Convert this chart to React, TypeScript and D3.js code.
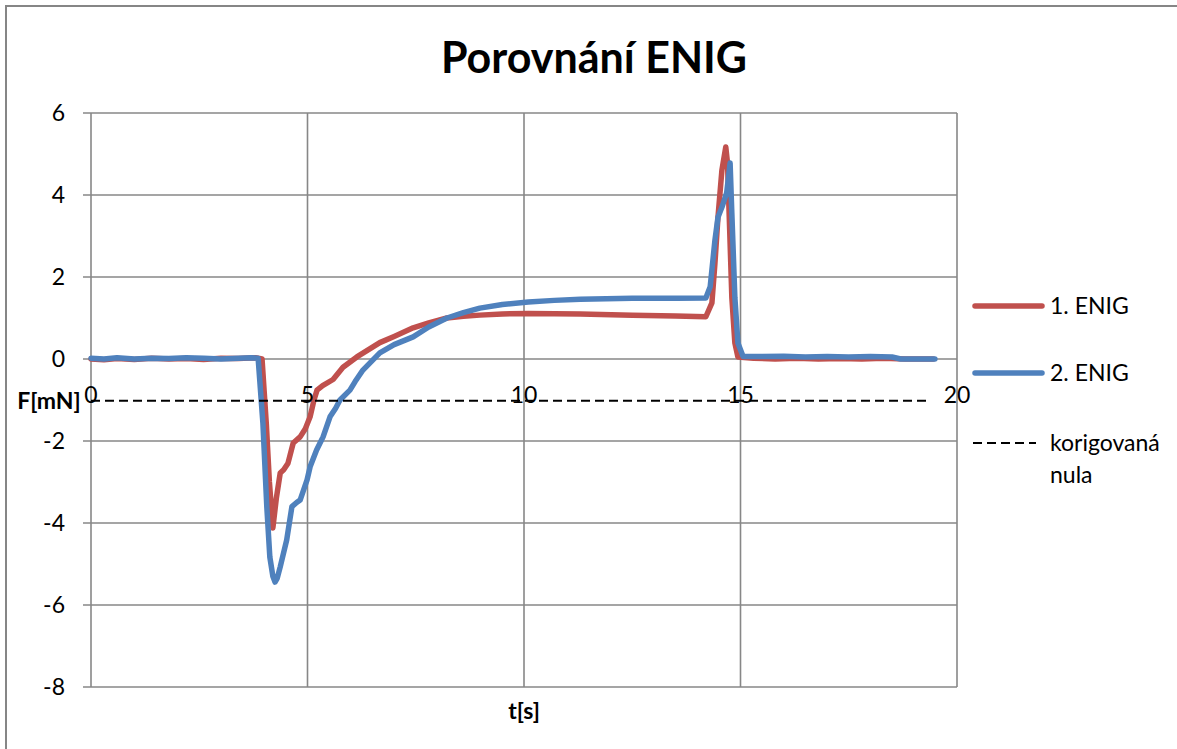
import React from "react";
import * as d3 from "d3";

const tRed = [0, 0.3, 0.6, 1.0, 1.4, 1.8, 2.2, 2.6, 3.0, 3.4, 3.8, 3.95, 4.05, 4.12, 4.2, 4.28, 4.37, 4.45, 4.55, 4.67, 4.83, 4.95, 5.06, 5.15, 5.22, 5.35, 5.59, 5.82, 6.14, 6.67, 7.0, 7.44, 7.8, 8.22, 8.6, 8.98, 9.5, 10.1, 11.3, 12.5, 13.5, 14.2, 14.34, 14.41, 14.48, 14.57, 14.66, 14.7, 14.75, 14.8, 14.87, 14.94, 15.3, 15.8, 16.3, 16.8, 17.3, 17.8, 18.3, 18.8, 19.45];
const fRed = [0, -0.02, 0.01, -0.01, 0.02, 0, 0.01, -0.01, 0.02, 0.01, 0.03, 0.0, -1.6, -3.0, -4.12, -3.4, -2.78, -2.7, -2.54, -2.05, -1.9, -1.7, -1.41, -1.0, -0.76, -0.65, -0.5, -0.2, 0.05, 0.4, 0.55, 0.76, 0.88, 1.0, 1.04, 1.07, 1.1, 1.11, 1.1, 1.07, 1.05, 1.03, 1.37, 2.34, 3.46, 4.6, 5.17, 4.78, 3.15, 1.5, 0.39, 0.05, 0.02, 0.0, 0.02, 0.0, 0.01, 0.0, 0.02, 0.0, 0.0];

const tBlue = [0, 0.3, 0.6, 1.0, 1.4, 1.8, 2.2, 2.6, 3.0, 3.4, 3.7, 3.86, 3.97, 4.06, 4.13, 4.2, 4.25, 4.3, 4.37, 4.52, 4.64, 4.75, 4.83, 4.99, 5.06, 5.21, 5.36, 5.52, 5.65, 5.75, 5.98, 6.1, 6.28, 6.67, 7.0, 7.44, 7.8, 8.22, 8.6, 8.98, 9.5, 10.1, 10.7, 11.3, 12.5, 13.5, 14.2, 14.3, 14.41, 14.48, 14.57, 14.68, 14.76, 14.8, 14.87, 14.94, 15.06, 15.5, 16, 16.5, 17, 17.5, 18, 18.5, 18.7, 19.0, 19.49];
const fBlue = [0.02, 0.0, 0.03, 0.0, 0.02, 0.01, 0.03, 0.02, 0.0, 0.02, 0.03, 0.02, -1.56, -3.6, -4.83, -5.3, -5.44, -5.35, -5.07, -4.41, -3.6, -3.5, -3.44, -2.95, -2.63, -2.22, -1.9, -1.41, -1.2, -1.0, -0.76, -0.55, -0.27, 0.15, 0.35, 0.54, 0.78, 1.0, 1.13, 1.24, 1.33, 1.39, 1.43, 1.46, 1.48, 1.48, 1.49, 1.76, 2.9, 3.46, 3.7, 4.05, 4.78, 3.56, 1.5, 0.39, 0.06, 0.06, 0.07, 0.05, 0.06, 0.05, 0.06, 0.05, 0.0, 0.0, 0.0];

const tZero = [0, 19.3];
const fZero = [-1.02, -1.02];

const xTicks = [0, 5, 10, 15, 20];
const yTicks = [-8, -6, -4, -2, 0, 2, 4, 6];
const seriesNames = ["1. ENIG", "2. ENIG", "korigovaná nula"];
const colors = ["#C0504D", "#4F81BD", "#000000"];

const FONT = "Lato, 'Open Sans', sans-serif";
const FS = 23;

export default function App() {
  const x = d3.scaleLinear().domain([0, 20]).range([91, 957]);
  const y = d3.scaleLinear().domain([-8, 6]).range([687, 113]);
  const line = d3
    .line<[number, number]>()
    .x((d) => x(d[0]))
    .y((d) => y(d[1]));
  const red = tRed.map((t, i) => [t, fRed[i]] as [number, number]);
  const blue = tBlue.map((t, i) => [t, fBlue[i]] as [number, number]);
  const zero = tZero.map((t, i) => [t, fZero[i]] as [number, number]);

  return (
    <div style={{ position: "fixed", left: 0, top: 0 }}>
      <svg width={1177} height={749} style={{ display: "block", background: "#fff" }}>
        <rect x={6} y={6} width={1175} height={750} fill="#fff" stroke="#868686" strokeWidth={2} />
        <text x={594} y={73} textAnchor="middle" fontFamily={FONT} fontWeight="bold" fontSize={43} fill="#000">
          Porovnání ENIG
        </text>
        {/* gridlines */}
        {yTicks.map((v) => (
          <line key={"gy" + v} x1={83} x2={957} y1={y(v)} y2={y(v)} stroke="#878787" strokeWidth={1.6} />
        ))}
        {xTicks.map((v) => (
          <line key={"gx" + v} x1={x(v)} x2={x(v)} y1={113} y2={687} stroke="#878787" strokeWidth={1.6} />
        ))}
        {yTicks.map((v) => (
          <text key={"ty" + v} x={65} y={y(v) + 8} textAnchor="end" fontFamily={FONT} fontSize={FS} fill="#000">
            {v}
          </text>
        ))}
        {/* series */}
        <path d={line(red) || ""} fill="none" stroke={colors[0]} strokeWidth={5.5} strokeLinejoin="round" strokeLinecap="round" />
        <path d={line(blue) || ""} fill="none" stroke={colors[1]} strokeWidth={5.5} strokeLinejoin="round" strokeLinecap="round" />
        <path d={line(zero) || ""} fill="none" stroke={colors[2]} strokeWidth={2} strokeDasharray="9,5" />
        {xTicks.map((v) => (
          <text key={"tx" + v} x={x(v)} y={403} textAnchor="middle" fontFamily={FONT} fontSize={FS} fill="#000">
            {v}
          </text>
        ))}
        <text x={49} y={409} textAnchor="middle" fontFamily={FONT} fontWeight="bold" fontSize={FS} fill="#000">
          F[mN]
        </text>
        <text x={524} y={719} textAnchor="middle" fontFamily={FONT} fontWeight="bold" fontSize={FS} fill="#000">
          t[s]
        </text>
        {/* legend */}
        <line x1={975} x2={1042} y1={306} y2={306} stroke={colors[0]} strokeWidth={5.5} strokeLinecap="round" />
        <text x={1050} y={314} fontFamily={FONT} fontSize={FS} fill="#000">{seriesNames[0]}</text>
        <line x1={975} x2={1042} y1={373} y2={373} stroke={colors[1]} strokeWidth={5.5} strokeLinecap="round" />
        <text x={1050} y={381} fontFamily={FONT} fontSize={FS} fill="#000">{seriesNames[1]}</text>
        <line x1={973} x2={1036} y1={443} y2={443} stroke={colors[2]} strokeWidth={2} strokeDasharray="9,5" />
        <text x={1050} y={451} fontFamily={FONT} fontSize={FS} fill="#000">korigovaná</text>
        <text x={1050} y={483} fontFamily={FONT} fontSize={FS} fill="#000">nula</text>
      </svg>
    </div>
  );
}
